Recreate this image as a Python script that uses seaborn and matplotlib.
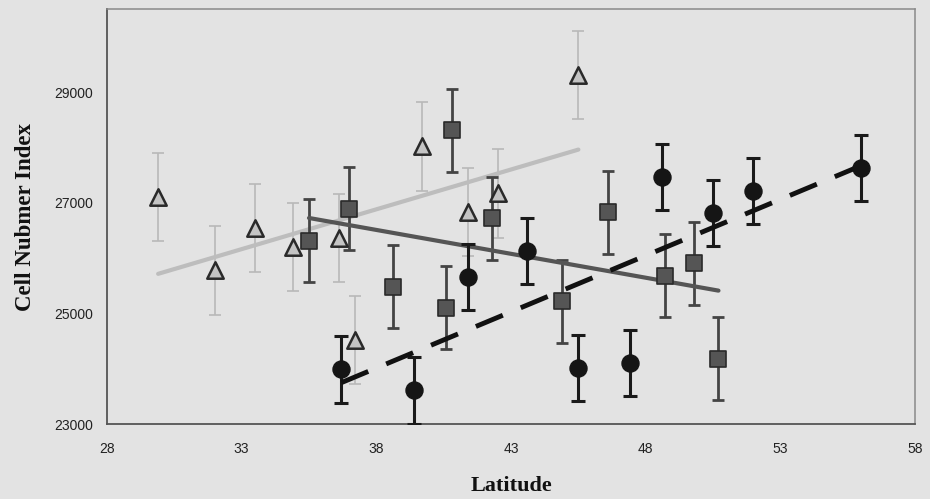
import numpy as np
import pandas as pd
import seaborn as sns
import matplotlib
matplotlib.use("Agg")
from matplotlib import pyplot as plt

# --- data ---
tri_lat = [29.9, 32.0, 33.5, 34.9, 36.6, 37.2, 39.7, 41.4, 42.5, 45.5]
tri_val = [27100, 25780, 26540, 26200, 26360, 24520, 28020, 26830, 27170, 29310]
tri_err = [800, 800, 800, 800, 800, 800, 800, 800, 800, 800]

sq_lat = [35.5, 37.0, 38.6, 40.6, 40.8, 42.3, 44.9, 46.6, 48.7, 49.8, 50.7]
sq_val = [26310, 26890, 25480, 25100, 28310, 26720, 25220, 26830, 25680, 25910, 24180]
sq_err = [750, 750, 750, 750, 750, 750, 750, 750, 750, 750, 750]

ci_lat = [36.7, 39.4, 41.4, 43.6, 45.5, 47.4, 48.6, 50.5, 52.0, 56.0]
ci_val = [23990, 23610, 25660, 26130, 24010, 24100, 27460, 26810, 27210, 27630]
ci_err = [600, 600, 600, 600, 600, 600, 600, 600, 600, 600]

x_ticks = [28, 33, 38, 43, 48, 53, 58]
y_ticks = [23000, 25000, 27000, 29000]

bg = "#e3e3e3"
sns.set_style("white")
plt.rcParams["font.family"] = ["Liberation Sans", "DejaVu Sans"]

fig = plt.figure(figsize=(9.3, 4.99), dpi=100, facecolor=bg)
ax = fig.add_axes([0.115, 0.150, 0.869, 0.832])
ax.set_facecolor(bg)

tri = pd.DataFrame({"lat": tri_lat, "val": tri_val, "err": tri_err})
sq = pd.DataFrame({"lat": sq_lat, "val": sq_val, "err": sq_err})
ci = pd.DataFrame({"lat": ci_lat, "val": ci_val, "err": ci_err})

# trend lines
sns.regplot(data=tri, x="lat", y="val", ci=None, scatter=False, truncate=True,
            line_kws=dict(color="#bdbdbd", lw=3, zorder=2), ax=ax)
sns.regplot(data=sq, x="lat", y="val", ci=None, scatter=False, truncate=True,
            line_kws=dict(color="#555555", lw=3, zorder=4), ax=ax)
sns.regplot(data=ci, x="lat", y="val", ci=None, scatter=False, truncate=True,
            line_kws=dict(color="#111111", lw=3.5, ls=(0, (6, 4)), zorder=6), ax=ax)

# error bars
ax.errorbar(tri["lat"], tri["val"], yerr=tri["err"], fmt="none", ecolor="#b8b8b8",
            elinewidth=1.2, capsize=4.5, capthick=1.2, zorder=1)
ax.errorbar(sq["lat"], sq["val"], yerr=sq["err"], fmt="none", ecolor="#444444",
            elinewidth=2, capsize=4.5, capthick=2, zorder=3)
ax.errorbar(ci["lat"], ci["val"], yerr=ci["err"], fmt="none", ecolor="#1a1a1a",
            elinewidth=2.2, capsize=5, capthick=2.2, zorder=5)

# markers
sns.scatterplot(data=tri, x="lat", y="val", marker="^", s=140, color="#c4c4c4",
                edgecolor="#2a2a2a", linewidth=1.8, zorder=7, ax=ax)
sns.scatterplot(data=sq, x="lat", y="val", marker="s", s=130, color="#555555",
                edgecolor="#2a2a2a", linewidth=1.2, zorder=7, ax=ax)
sns.scatterplot(data=ci, x="lat", y="val", marker="o", s=150, color="#151515",
                edgecolor="#151515", linewidth=1, zorder=8, ax=ax)

ax.set_xlim(28, 58)
ax.set_ylim(23000, 30500)
ax.set_xticks(x_ticks)
ax.set_yticks(y_ticks)
ax.tick_params(axis="both", labelsize=10, length=3, color="#666666",
               labelcolor="#222222", direction="out")
ax.tick_params(axis="x", pad=10)
ax.tick_params(axis="y", pad=7)
for side in ["left", "bottom"]:
    ax.spines[side].set_color("#555555")
    ax.spines[side].set_linewidth(1.3)
for side in ["top", "right"]:
    ax.spines[side].set_color("#8a8a8a")
    ax.spines[side].set_linewidth(1.1)

ax.set_xlabel("Latitude", family=["Liberation Serif", "DejaVu Serif"],
              fontweight="bold", fontsize=16, color="#111111", labelpad=14)
ax.set_ylabel("Cell Nubmer Index", family=["Liberation Serif", "DejaVu Serif"],
              fontweight="bold", fontsize=16.5, color="#111111", labelpad=13)

fig.savefig("out.png", dpi=100, facecolor=bg)
